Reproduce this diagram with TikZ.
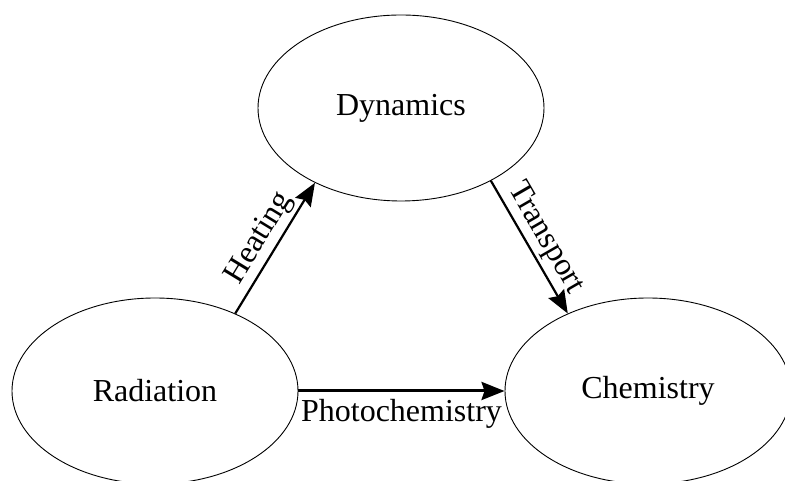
\documentclass[tikz,border=0pt]{standalone}
\usepackage{fontspec}
\setmainfont{Liberation Serif}
\usetikzlibrary{shapes.geometric,arrows.meta}
\tikzset{
  blob/.style={draw,ellipse,line width=0.9pt,minimum width=286pt,minimum height=186pt,inner sep=0pt},
  flow/.style={line width=2.2pt,-{Stealth[length=23pt,width=18pt,inset=3pt]}},
  lbl/.style={font=\fontsize{32}{38}\selectfont}
}
\begin{document}
\begin{tikzpicture}[x=1pt,y=1pt,every node/.style={font=\fontsize{32}{38}\selectfont}]
      \useasboundingbox (0,0) rectangle (785,481);
      \draw
        (401,373) node[blob] (dyn){Dynamics}
        (155,90) node[blob] (rad){Radiation}
        (648,90) node[blob] (chem){Chemistry};
      \begin{scope}[flow]
        \draw (rad.44) to node[sloped,above,lbl] {Heating} (dyn.221);
        \draw (dyn.321) to node[sloped,above,lbl] {Transport} (chem.136);
        \draw[line width=3pt] (rad.east) to node[below,lbl,inner sep=7pt] {Photochemistry} (chem.west);
      \end{scope}
    \end{tikzpicture}
\end{document}
